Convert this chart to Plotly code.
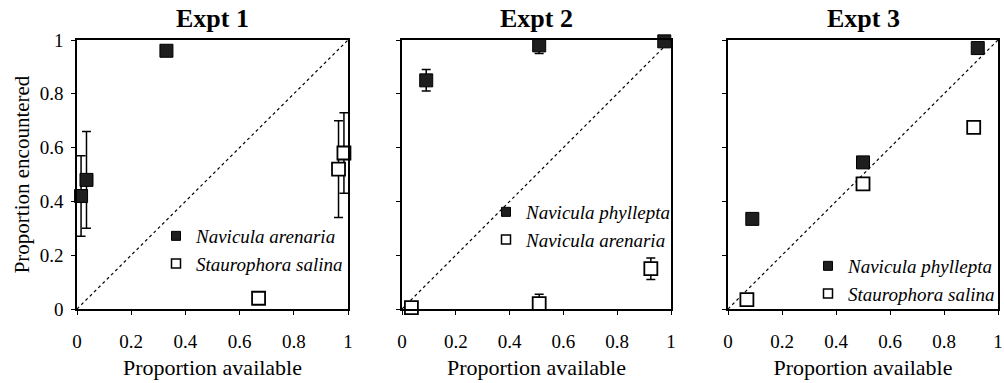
import plotly.graph_objects as go

# ---------------- data ----------------
panel_titles = ["Expt 1", "Expt 2", "Expt 3"]
filled_names = ["Navicula arenaria", "Navicula phyllepta", "Navicula phyllepta"]
open_names = ["Staurophora salina", "Navicula arenaria", "Staurophora salina"]

# Expt 1
e1_filled_x = [0.015, 0.035, 0.33]
e1_filled_y = [0.42, 0.48, 0.96]
e1_filled_err = [0.15, 0.18, 0.0]
e1_open_x = [0.67, 0.965, 0.985]
e1_open_y = [0.04, 0.52, 0.58]
e1_open_err = [0.0, 0.18, 0.15]

# Expt 2
e2_filled_x = [0.09, 0.51, 0.975]
e2_filled_y = [0.85, 0.98, 0.995]
e2_filled_err = [0.04, 0.03, 0.0]
e2_open_x = [0.035, 0.51, 0.925]
e2_open_y = [0.005, 0.02, 0.15]
e2_open_err = [0.0, 0.035, 0.04]

# Expt 3
e3_filled_x = [0.09, 0.5, 0.925]
e3_filled_y = [0.335, 0.545, 0.97]
e3_filled_err = [0.0, 0.0, 0.0]
e3_open_x = [0.07, 0.5, 0.91]
e3_open_y = [0.035, 0.465, 0.675]
e3_open_err = [0.0, 0.0, 0.0]

diag_x = [0, 1]
diag_y = [0, 1]

tick_vals = [0, 0.2, 0.4, 0.6, 0.8, 1]
tick_text = ["0", "0.2", "0.4", "0.6", "0.8", "1"]

panels = [
    (e1_filled_x, e1_filled_y, e1_filled_err, e1_open_x, e1_open_y, e1_open_err),
    (e2_filled_x, e2_filled_y, e2_filled_err, e2_open_x, e2_open_y, e2_open_err),
    (e3_filled_x, e3_filled_y, e3_filled_err, e3_open_x, e3_open_y, e3_open_err),
]

# ---------------- layout geometry (screen pixels) ----------------
W, H = 1004, 383
OFF = 0  # body margin is removed by the post script below
x_domains = [(77, 348), (402, 671), (728, 998)]
y_top, y_bot = 40, 309
legend_pos = [(156, 217), (486, 193), (808, 247)]
title_y = 18

SERIF = "Liberation Serif"
FILL_COLOR = "#1e1e1e"


def fx_(px):
    return (px - OFF) / W


def fy_(py):
    return 1 - (py - OFF) / H


fig = go.Figure()
legend_keys = ["legend", "legend2", "legend3"]

for i, (fx, fy, fe, ox, oy, oe) in enumerate(panels):
    xa = "x" if i == 0 else f"x{i+1}"
    ya = "y" if i == 0 else f"y{i+1}"
    lg = legend_keys[i]
    # diagonal reference line
    fig.add_trace(go.Scatter(
        x=diag_x, y=diag_y, xaxis=xa, yaxis=ya, mode="lines",
        line=dict(color="black", width=1.2, dash="dot"),
        showlegend=False, hoverinfo="skip"))
    # open squares
    fig.add_trace(go.Scatter(
        x=ox, y=oy, xaxis=xa, yaxis=ya, mode="markers",
        marker=dict(symbol="square", size=13, color="white",
                    line=dict(color="black", width=1.8)),
        error_y=dict(type="data", array=oe, visible=True,
                     color="black", thickness=1.5, width=4.5),
        cliponaxis=False, showlegend=False))
    # filled squares
    fig.add_trace(go.Scatter(
        x=fx, y=fy, xaxis=xa, yaxis=ya, mode="markers",
        marker=dict(symbol="square", size=13, color=FILL_COLOR,
                    line=dict(color="black", width=1)),
        error_y=dict(type="data", array=fe, visible=True,
                     color="black", thickness=1.5, width=4.5),
        cliponaxis=False, showlegend=False))
    # legend entries
    fig.add_trace(go.Scatter(
        x=[None], y=[None], xaxis=xa, yaxis=ya, mode="markers",
        name=filled_names[i], legend=lg,
        marker=dict(symbol="square", size=9, color=FILL_COLOR,
                    line=dict(color="black", width=1))))
    fig.add_trace(go.Scatter(
        x=[None], y=[None], xaxis=xa, yaxis=ya, mode="markers",
        name=open_names[i], legend=lg,
        marker=dict(symbol="square", size=9, color="white",
                    line=dict(color="black", width=1.5))))

axis_common = dict(
    range=[0, 1], tickvals=tick_vals, ticktext=tick_text,
    ticks="outside", ticklen=4, tickwidth=1, tickcolor="black",
    showline=True, linecolor="black", linewidth=1.6, mirror=True,
    showgrid=False, zeroline=False, automargin=False,
    tickfont=dict(family=SERIF, size=19, color="black"),
)

layout = dict(
    template="none",
    width=W, height=H, margin=dict(l=0, r=0, t=0, b=0, autoexpand=False),
    paper_bgcolor="white", plot_bgcolor="white",
    font=dict(family=SERIF, color="black"),
    showlegend=True, annotations=[],
)

for i in range(3):
    xs = "xaxis" if i == 0 else f"xaxis{i+1}"
    ys = "yaxis" if i == 0 else f"yaxis{i+1}"
    x0, x1 = x_domains[i]
    layout[xs] = dict(axis_common,
                      domain=[fx_(x0), fx_(x1)],
                      anchor="y" if i == 0 else f"y{i+1}",
                      ticklabelstandoff=10,
                      title=dict(text="Proportion available",
                                 font=dict(family=SERIF, size=22, color="black"),
                                 standoff=9))
    layout[ys] = dict(axis_common,
                      domain=[fy_(y_bot), fy_(y_top)],
                      anchor="x" if i == 0 else f"x{i+1}",
                      ticklabelstandoff=4,
                      showticklabels=(i == 0))
    if i == 0:
        layout[ys]["title"] = dict(text="Proportion encountered",
                                   font=dict(family=SERIF, size=21, color="black"),
                                   standoff=4)
    lx, ly = legend_pos[i]
    layout[legend_keys[i]] = dict(
        x=fx_(lx), y=fy_(ly), xanchor="left", yanchor="top",
        bgcolor="rgba(0,0,0,0)", borderwidth=0,
        font=dict(family=SERIF, size=19, color="black", style="italic"),
        traceorder="normal", itemsizing="trace")
    layout["annotations"].append(dict(
        text=f"<b>{panel_titles[i]}</b>", xref="paper", yref="paper",
        x=fx_((x0 + x1) / 2), y=fy_(title_y), xanchor="center", yanchor="middle",
        showarrow=False, font=dict(family=SERIF, size=26, color="black")))

fig.update_layout(**layout)
fig.write_html(
    "out.html",
    config={"displayModeBar": False},
    post_script="document.body.style.margin='0px';document.body.style.overflow='hidden';",
)
